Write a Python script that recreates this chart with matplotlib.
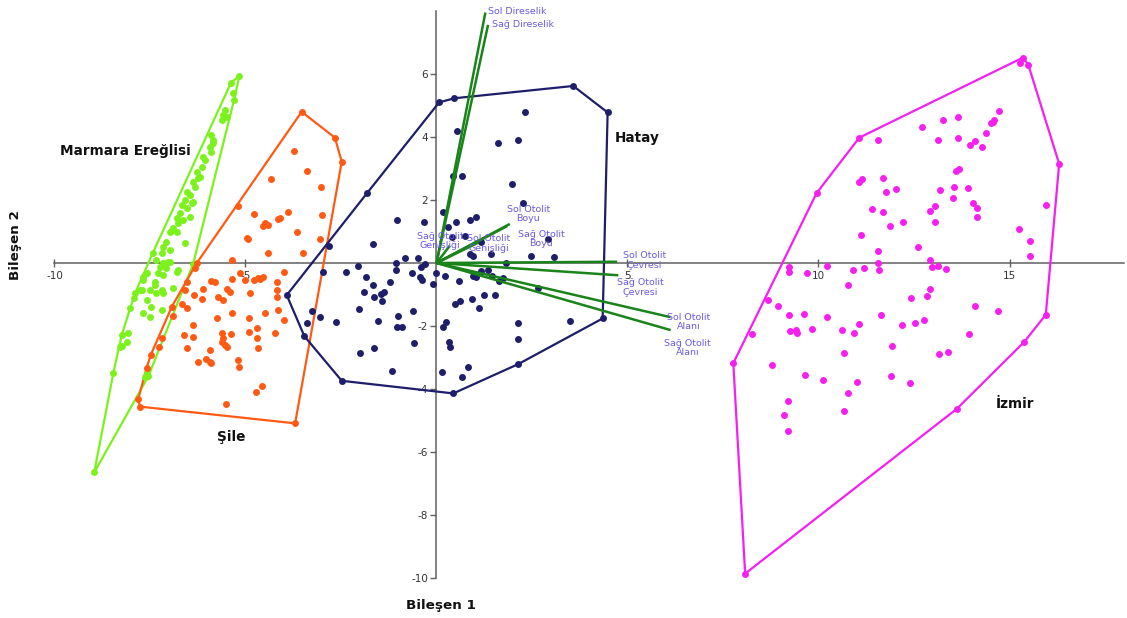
import matplotlib
matplotlib.use("Agg")
import matplotlib.pyplot as plt

plt.rcParams['font.family'] = ['DejaVu Sans']
plt.rcParams['axes.unicode_minus'] = False

# ---- component scores per locality (Bileşen 1, Bileşen 2) ----
marmara_x = [-5.16, -5.38, -5.32, -5.30, -5.54, -5.58, -5.62, -5.49, -5.89, -5.86, -5.93, -5.89,
             -6.10, -6.06, -6.15, -6.28, -6.19, -6.37, -6.32, -6.54, -6.45, -6.58, -6.37, -6.67,
             -6.54, -6.71, -6.80, -6.63, -6.76, -6.89, -6.98, -6.80, -6.58, -7.07, -7.15, -6.98,
             -7.19, -7.43, -7.33, -7.15, -7.24, -7.07, -7.28, -7.15, -6.80, -6.98, -7.59, -7.67,
             -7.37, -7.50, -7.76, -7.33, -7.15, -6.89, -7.89, -7.93, -7.59, -8.02, -7.67, -7.50,
             -7.19, -8.24, -8.07, -8.11, -8.29, -8.46, -7.59, -7.63, -8.96, -6.37, -6.24, -6.41,
             -6.45, -6.93, -7.02, -6.76, -7.67, -7.37, -7.72, -7.19, -7.47, -8.22, -7.54, -5.84]
marmara_y = [5.94, 5.72, 5.39, 5.17, 4.86, 4.70, 4.54, 4.65, 4.06, 3.90, 3.69, 3.53,
             3.38, 3.27, 3.06, 2.90, 2.74, 2.58, 2.42, 2.26, 2.16, 2.00, 1.95, 1.84,
             1.74, 1.58, 1.42, 1.37, 1.26, 1.10, 0.99, 0.99, 0.65, 0.68, 0.52, 0.41,
             0.31, 0.31, 0.10, -0.01, -0.12, -0.17, -0.33, -0.38, -0.28, 0.04, -0.33, -0.54,
             -0.70, -0.86, -0.86, -0.96, -0.96, -0.80, -0.96, -1.12, -1.17, -1.44, -1.60, -1.70,
             -1.49, -2.29, -2.23, -2.50, -2.66, -3.50, -3.50, -3.61, -6.65, -0.03, 2.69, 1.89,
             1.47, 1.05, 0.04, -0.22, -0.43, -0.59, -0.86, -0.86, -1.39, -2.63, -3.59, 3.80]

sile_x = [-3.53, -2.66, -2.48, -3.72, -3.40, -4.32, -3.03, -5.19, -4.79, -4.14, -3.88, -4.10,
          -4.49, -4.40, -4.53, -2.99, -3.66, -4.93, -4.97, -3.05, -4.42, -3.50, -5.36, -6.28,
          -3.99, -6.32, -5.14, -5.01, -4.53, -4.66, -4.79, -4.62, -4.18, -5.89, -5.80, -5.36,
          -6.54, -6.58, -6.10, -5.48, -5.41, -4.18, -4.18, -4.88, -6.34, -6.15, -5.71, -5.58,
          -6.93, -6.67, -6.54, -4.14, -3.99, -5.36, -5.74, -4.91, -4.49, -6.89, -6.38, -6.61,
          -6.37, -5.38, -5.62, -5.58, -5.62, -5.54, -5.49, -4.71, -4.91, -4.71, -4.23, -7.19,
          -7.26, -6.52, -5.93, -4.66, -7.48, -7.59, -6.23, -6.03, -5.93, -5.89, -5.19, -5.16,
          -4.58, -4.73, -7.81, -7.76, -5.52, -3.70]
sile_y = [4.80, 3.98, 3.22, 3.57, 2.93, 2.67, 2.40, 1.82, 1.54, 1.39, 1.61, 1.42,
          1.26, 1.21, 1.17, 1.52, 0.98, 0.76, 0.78, 0.76, 0.33, 0.33, 0.10, -0.01,
          -0.30, -0.17, -0.33, -0.54, -0.43, -0.49, -0.54, -0.52, -0.59, -0.56, -0.59, -0.51,
          -0.59, -0.86, -0.84, -0.84, -0.91, -0.86, -1.07, -0.96, -1.02, -1.15, -1.07, -1.17,
          -1.39, -1.31, -1.44, -1.49, -1.81, -1.60, -1.76, -1.76, -1.60, -1.67, -1.97, -2.29,
          -2.34, -2.25, -2.23, -2.39, -2.50, -2.60, -2.66, -2.07, -2.18, -2.39, -2.23, -2.37,
          -2.66, -2.71, -2.76, -2.71, -2.92, -3.34, -3.13, -3.06, -3.13, -3.19, -3.08, -3.29,
          -3.90, -4.11, -4.33, -4.56, -4.49, -5.09]

hatay_x = [0.07, 0.47, 3.58, 4.48, 4.35, 2.14, 0.44, -2.48, -3.46, -3.92, -1.81,
           2.33, 0.55, 1.61, 2.14, 0.44, 0.66, 1.97, 2.26, 0.18, -1.03, -0.33, 0.50, 0.89,
           1.03, 0.31, 0.75, 0.40, 1.16, -1.65, -2.81, 2.93, 2.47, 3.08, 0.88, 0.96, 1.42,
           -0.82, -0.48, -1.06, -0.30, -0.41, 1.82, -2.05, -1.06, -2.37, -2.98, -1.85, -0.63,
           -0.43, -0.39, 0.22, 0.00, -0.08, 1.16, 1.36, 0.95, 1.03, 1.46, 1.64, 1.75, 0.60,
           -1.22, -1.67, -1.90, -1.37, -1.44, -1.64, -1.42, 1.24, 1.53, 0.92, 0.62, 0.48,
           1.12, -2.03, -3.25, -3.05, -3.38, -2.64, -1.54, -1.00, -0.62, 0.25, 0.18, -1.04,
           -0.89, 2.14, 3.49, 2.67, 2.14, -0.59, -1.63, -1.99, 0.34, 0.35, -1.17, 0.15, 0.83, 0.68]
hatay_y = [5.10, 5.23, 5.62, 4.78, -1.76, -3.21, -4.14, -3.74, -2.32, -1.02, 2.23,
           4.78, 4.20, 3.80, 3.90, 2.77, 2.76, 2.50, 1.89, 1.61, 1.37, 1.29, 1.31, 1.37,
           1.45, 1.15, 0.86, 0.84, 0.66, 0.60, 0.54, 0.76, 0.23, 0.20, 0.29, 0.22, 0.28,
           0.15, 0.15, 0.01, -0.04, -0.14, 0.01, -0.10, -0.22, -0.28, -0.30, -0.43, -0.33,
           -0.43, -0.54, -0.40, -0.33, -0.67, -0.24, -0.22, -0.41, -0.43, -0.41, -0.56, -0.49, -0.57,
           -0.61, -0.70, -0.91, -0.93, -0.99, -1.09, -1.20, -1.02, -1.02, -1.13, -1.20, -1.30,
           -1.44, -1.47, -1.52, -1.70, -1.89, -1.86, -1.83, -1.67, -1.51, -1.86, -2.04, -2.02,
           -2.02, -1.89, -1.84, -0.80, -2.42, -2.53, -2.71, -2.85, -2.50, -2.66, -3.43, -3.45, -3.31, -3.63]

izmir_x = [15.35, 15.49, 16.30, 15.95, 15.39, 13.62, 8.08, 7.77, 9.95, 11.07, 15.28,
           11.57, 12.70, 13.27, 13.64, 13.13, 13.64, 13.96, 14.10, 14.27, 14.38, 14.51, 14.59,
           14.56, 14.73, 11.13, 11.07, 11.68, 11.76, 12.03, 11.39, 11.70, 11.87, 12.20, 13.60,
           13.69, 13.19, 13.55, 13.92, 13.53, 14.04, 14.16, 14.16, 12.92, 13.04, 13.06, 15.95,
           15.26, 15.54, 15.54, 11.10, 11.55, 12.60, 12.92, 12.97, 13.13, 13.35, 11.57, 11.59,
           11.20, 10.90, 10.21, 9.23, 9.24, 9.69, 10.76, 12.42, 12.84, 12.92, 8.67, 8.93,
           9.24, 9.62, 10.23, 11.63, 12.19, 12.53, 12.75, 14.10, 14.69, 13.95, 9.25, 9.45,
           9.41, 9.84, 10.61, 10.94, 11.07, 8.27, 10.66, 11.93, 13.16, 13.38, 8.79, 9.65,
           10.13, 11.02, 11.91, 12.40, 10.78, 9.20, 9.11, 9.20, 10.66]
izmir_y = [6.52, 6.30, 3.15, -1.64, -2.50, -4.63, -9.86, -3.18, 2.22, 3.98, 6.35,
           3.91, 4.33, 4.55, 4.65, 3.89, 3.96, 3.76, 3.87, 3.67, 4.14, 4.44, 4.55,
           4.49, 4.82, 2.68, 2.57, 2.71, 2.25, 2.35, 1.72, 1.61, 1.17, 1.29, 2.92,
           2.99, 2.33, 2.40, 2.38, 2.07, 1.92, 1.76, 1.46, 1.64, 1.81, 1.29, 1.83,
           1.08, 0.69, 0.21, 0.88, 0.38, 0.51, 0.08, -0.13, -0.11, -0.19, 0.00, -0.22,
           -0.16, -0.22, -0.09, -0.14, -0.30, -0.33, -0.69, -1.10, -1.04, -0.82, -1.18, -1.37,
           -1.64, -1.62, -1.70, -1.66, -1.98, -1.92, -1.81, -1.37, -1.51, -2.26, -2.16, -2.22,
           -2.14, -2.10, -2.14, -2.22, -1.94, -2.25, -2.87, -2.63, -2.88, -2.84, -3.23, -3.54,
           -3.72, -3.78, -3.58, -3.81, -4.13, -4.37, -4.81, -5.33, -4.71]

group_names = ['Marmara Ereğlisi', 'Şile', 'Hatay', 'İzmir']
group_colors = ['#7cf21c', '#ff5a14', '#1e1e6a', '#f51ff0']
group_label_pos = [(-9.86, 3.56, 'left'), (-5.38, -5.52, 'center'),
                   (5.25, 3.97, 'center'), (15.14, -4.48, 'center')]

# ---- variable loadings ----
load_names = ['Sol Direselik', 'Sağ Direselik', 'Sol Otolit\nBoyu', 'Sağ Otolit\nBoyu',
              'Sağ Otolit\nGenişliği', 'Sol Otolit\nGenişliği', 'Sol Otolit\nÇevresi',
              'Sağ Otolit\nÇevresi', 'Sol Otolit\nAlanı', 'Sağ Otolit\nAlanı']
load_x = [1.28, 1.35, 1.92, 1.85, 0.35, 1.10, 4.73, 4.76, 6.13, 6.13]
load_y = [7.95, 7.56, 1.24, 1.17, 0.55, 0.65, 0.04, -0.39, -1.72, -2.13]
load_text_x = [1.35, 1.45, 2.40, 2.74, 0.10, 1.37, 5.45, 5.33, 6.61, 6.58]
load_text_y = [8.00, 7.56, 1.56, 0.76, 0.70, 0.63, 0.08, -0.78, -1.87, -2.70]
load_text_ha = ['left', 'left', 'center', 'center', 'center', 'center',
                'center', 'center', 'center', 'center']

x_ticks = [-10, -5, 5, 10, 15]
y_ticks = [6, 4, 2, -2, -4, -6, -8, -10]


def convex_hull(xs, ys):
    pts = sorted(set(zip(xs, ys)))

    def cross(o, a, b):
        return (a[0] - o[0]) * (b[1] - o[1]) - (a[1] - o[1]) * (b[0] - o[0])

    lower, upper = [], []
    for p in pts:
        while len(lower) >= 2 and cross(lower[-2], lower[-1], p) <= 0:
            lower.pop()
        lower.append(p)
    for p in reversed(pts):
        while len(upper) >= 2 and cross(upper[-2], upper[-1], p) <= 0:
            upper.pop()
        upper.append(p)
    hull = lower[:-1] + upper[:-1]
    hull.append(hull[0])
    return [p[0] for p in hull], [p[1] for p in hull]


fig = plt.figure(figsize=(11.27, 6.18), dpi=100)
ax = fig.add_axes([0.03478, 0.04943, 0.96265, 0.94296])
ax.set_xlim(-10.4, 18.0)
ax.set_ylim(-10.3, 8.2)

for s in ['top', 'right']:
    ax.spines[s].set_visible(False)
ax.spines['left'].set_position(('data', 0))
ax.spines['bottom'].set_position(('data', 0))
ax.spines['bottom'].set_bounds(-10, 18)
ax.spines['left'].set_bounds(-10, 8)
for s in ['left', 'bottom']:
    ax.spines[s].set_color('#606060')
    ax.spines[s].set_linewidth(1.1)
    ax.spines[s].set_zorder(1)

ax.set_xticks(x_ticks)
ax.set_xticklabels([str(t) for t in x_ticks])
ax.set_yticks(y_ticks)
ax.set_yticklabels([str(t) for t in y_ticks])
ax.tick_params(axis='x', direction='inout', length=6, width=1, color='#606060',
               labelcolor='#333333', labelsize=7.5, pad=3)
ax.tick_params(axis='y', direction='out', length=4, width=1, color='#606060',
               labelcolor='#333333', labelsize=7.5, pad=2)

groups = [(marmara_x, marmara_y), (sile_x, sile_y), (hatay_x, hatay_y), (izmir_x, izmir_y)]
for (gx, gy), color in zip(groups, group_colors):
    hx, hy = convex_hull(gx, gy)
    ax.plot(hx, hy, color=color, lw=1.6, zorder=2, solid_joinstyle='miter')
    ax.plot(gx, gy, 'o', color=color, ms=5.0, mec='none', zorder=3)

for name, color, (tx, ty, ha) in zip(group_names, group_colors, group_label_pos):
    ax.text(tx, ty, name, ha=ha, va='center', fontsize=9.8, fontweight='bold',
            color='#111111', zorder=6)

for lx, ly in zip(load_x, load_y):
    ax.plot([0, lx], [0, ly], color='#1a841a', lw=1.8, zorder=4, solid_capstyle='butt')

for name, tx, ty, ha in zip(load_names, load_text_x, load_text_y, load_text_ha):
    ax.text(tx, ty, name, ha=ha, va='center', fontsize=6.8, color='#6a5ce0',
            linespacing=1.1, zorder=7)

fig.text(441 / 1127, 1 - 605 / 618, 'Bileşen 1', ha='center', va='center',
         fontsize=9.7, fontweight='bold', color='#111111')
fig.text(15 / 1127, 1 - 245 / 618, 'Bileşen 2', ha='center', va='center',
         fontsize=9.7, fontweight='bold', color='#111111', rotation=90)

fig.savefig('out.png', dpi=100, facecolor='white')
